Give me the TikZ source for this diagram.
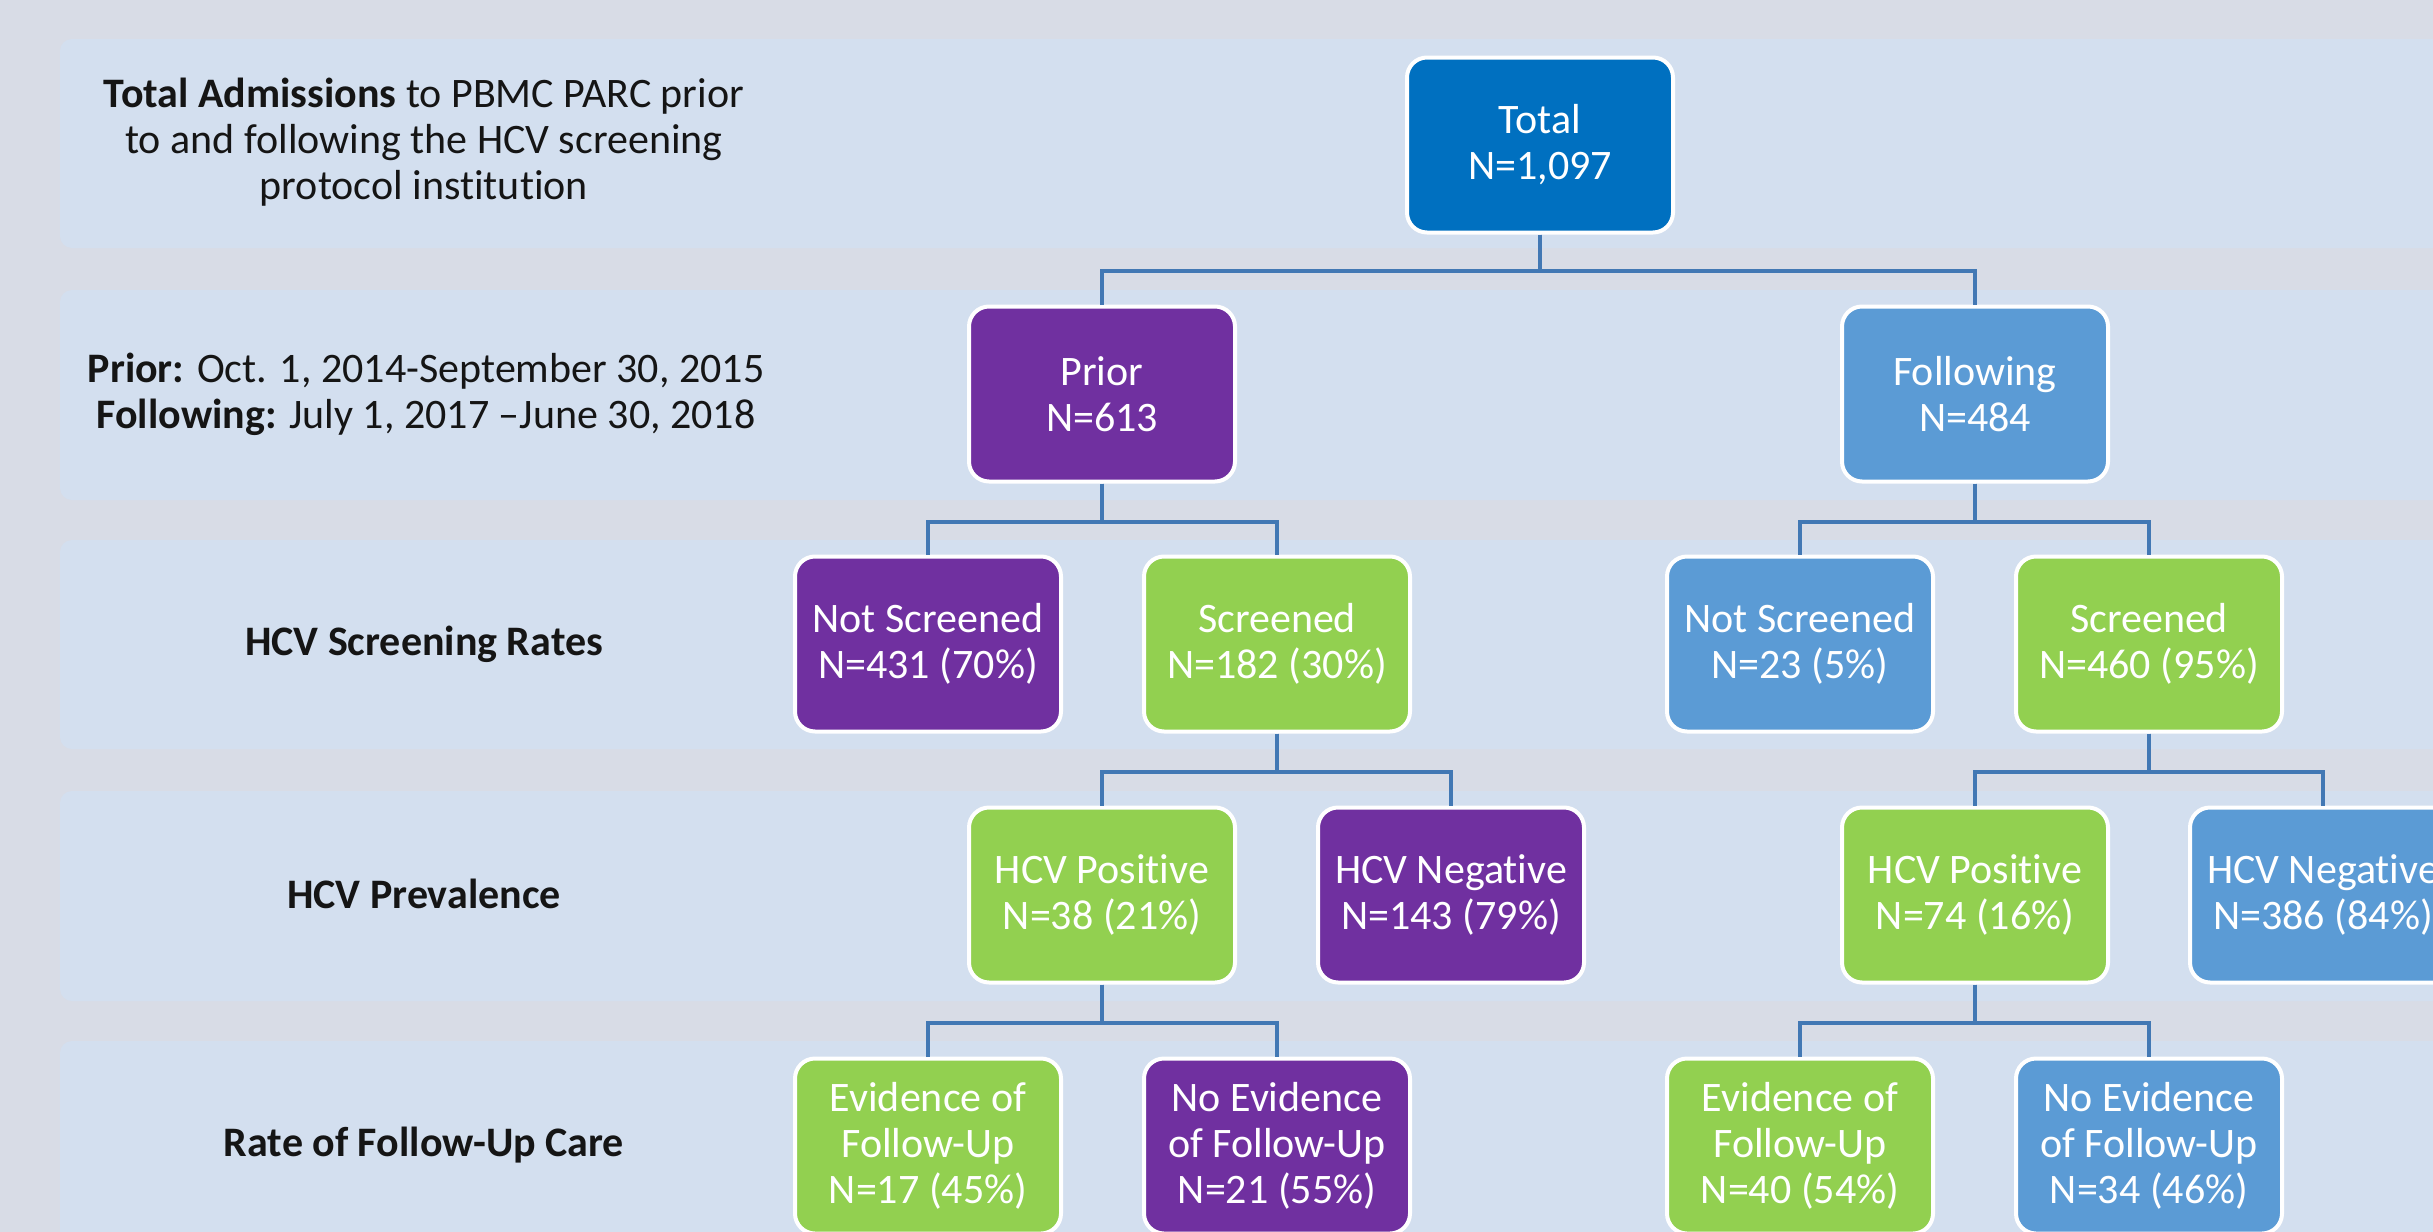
\documentclass[tikz,border=0pt]{standalone}
\usepackage{fontspec}
\setmainfont{Carlito}[Ligatures=NoCommon]
\definecolor{bgc}{HTML}{D8DCE6}
\definecolor{bandc}{HTML}{D3DFEF}
\definecolor{cblue}{HTML}{0070C0}
\definecolor{cpurple}{HTML}{7030A0}
\definecolor{clblue}{HTML}{5B9BD5}
\definecolor{cgreen}{HTML}{92D050}
\definecolor{connc}{HTML}{4278B4}
\definecolor{labc}{HTML}{151515}
\begin{document}
\begin{tikzpicture}[x=0.5pt,y=-0.5pt,
  band/.style={fill=bandc, rounded corners=6pt},
  box/.style={draw=white, line width=2pt, rounded corners=10pt, minimum width=133pt, minimum height=87.5pt, inner sep=2pt, align=center, text=white, font=\fontsize{21}{23}\selectfont},
  lbl/.style={align=center, text=labc, font=\fontsize{21}{23}\selectfont},
  blbl/.style={align=center, text=labc, font=\fontsize{21}{23}\selectfont\bfseries},
  conn/.style={draw=connc, line width=2pt}]
\clip (0,0) rectangle (2433,1232);
\fill[bgc] (0,0) rectangle (2433,1232);
\foreach \t/\b in {39/248, 290/500, 540/749, 791/1001, 1041/1300}
  \fill[band] (60,\t) rectangle (2500,\b);

% left labels
\node[lbl] (l1) at (424,142) {\textbf{Total Admissions} to PBMC PARC prior\\to and following the HCV screening\\protocol institution};
\node[lbl] (l2) at (426,394) {\textbf{Prior:} Oct. 1, 2014-September 30, 2015\\\textbf{Following:} July 1, 2017 –June 30, 2018};
\node[blbl] (l3) at (424,644) {HCV Screening Rates};
\node[blbl] (l4) at (424,894) {HCV Prevalence};
\node[blbl] (l5) at (424,1145) {Rate of Follow-Up Care};

% nodes
\node[box, fill=cblue] (total) at (1540,145) {Total\\N=1,097};
\node[box, fill=cpurple] (prior) at (1102,394) {Prior\\N=613};
\node[box, fill=clblue] (follow) at (1975,394) {Following\\N=484};
\node[box, fill=cpurple] (pns) at (928,644) {Not Screened\\N=431 (70\%)};
\node[box, fill=cgreen] (ps) at (1277,644) {Screened\\N=182 (30\%)};
\node[box, fill=clblue] (fns) at (1800,644) {Not Screened\\N=23 (5\%)};
\node[box, fill=cgreen] (fs) at (2149,644) {Screened\\N=460 (95\%)};
\node[box, fill=cgreen] (ppos) at (1102,895) {HCV Positive\\N=38 (21\%)};
\node[box, fill=cpurple] (pneg) at (1451,895) {HCV Negative\\N=143 (79\%)};
\node[box, fill=cgreen] (fpos) at (1975,895) {HCV Positive\\N=74 (16\%)};
\node[box, fill=clblue] (fneg) at (2323,895) {HCV Negative\\N=386 (84\%)};
\node[box, fill=cgreen] (pev) at (928,1146) {Evidence of\\Follow-Up\\N=17 (45\%)};
\node[box, fill=cpurple] (pnev) at (1277,1146) {No Evidence\\of Follow-Up\\N=21 (55\%)};
\node[box, fill=cgreen] (fev) at (1800,1146) {Evidence of\\Follow-Up\\N=40 (54\%)};
\node[box, fill=clblue] (fnev) at (2149,1146) {No Evidence\\of Follow-Up\\N=34 (46\%)};

% connectors
\draw[conn] (total.south) -- ++(0,36) -| (prior.north);
\draw[conn] (total.south) -- ++(0,36) -| (follow.north);
\draw[conn] (prior.south) -- ++(0,38) -| (pns.north);
\draw[conn] (prior.south) -- ++(0,38) -| (ps.north);
\draw[conn] (follow.south) -- ++(0,38) -| (fns.north);
\draw[conn] (follow.south) -- ++(0,38) -| (fs.north);
\draw[conn] (ps.south) -- ++(0,38) -| (ppos.north);
\draw[conn] (ps.south) -- ++(0,38) -| (pneg.north);
\draw[conn] (fs.south) -- ++(0,38) -| (fpos.north);
\draw[conn] (fs.south) -- ++(0,38) -| (fneg.north);
\draw[conn] (ppos.south) -- ++(0,38) -| (pev.north);
\draw[conn] (ppos.south) -- ++(0,38) -| (pnev.north);
\draw[conn] (fpos.south) -- ++(0,38) -| (fev.north);
\draw[conn] (fpos.south) -- ++(0,38) -| (fnev.north);
\end{tikzpicture}
\end{document}
